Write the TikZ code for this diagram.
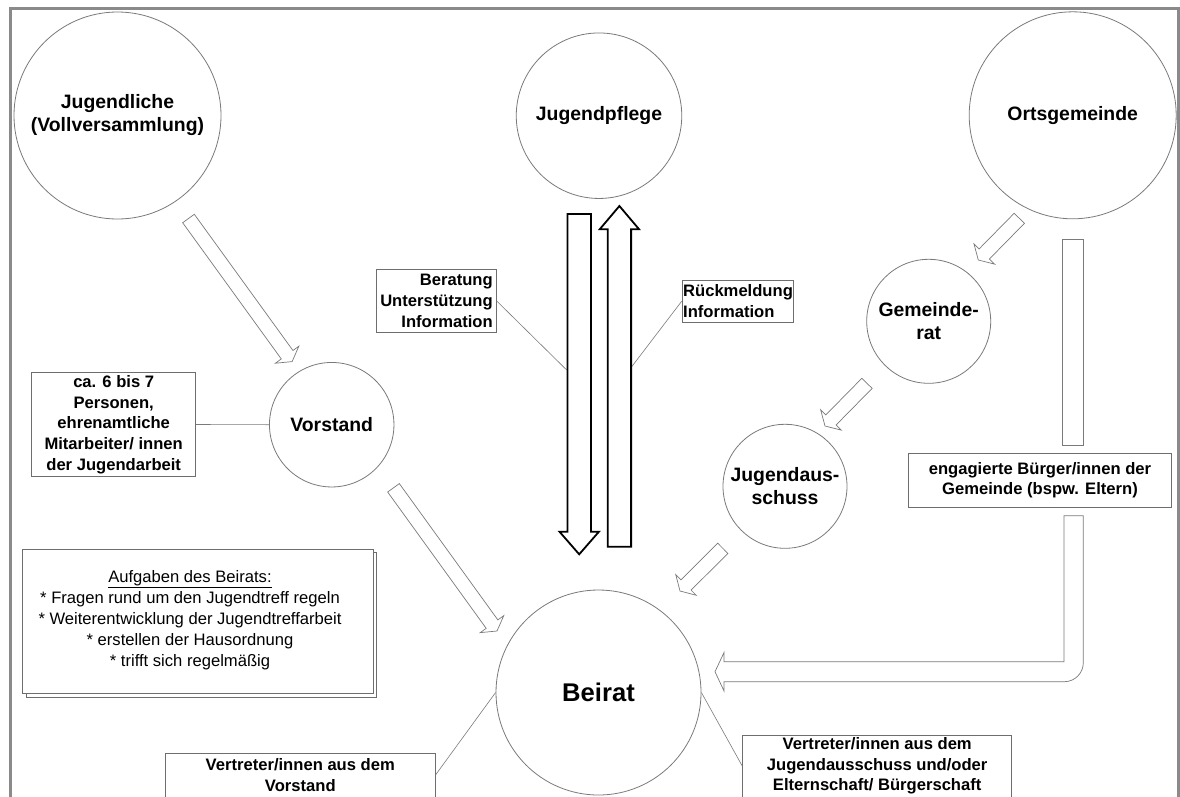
\documentclass[tikz,border=0pt]{standalone}
\usepackage{fontspec}
\setmainfont{Liberation Sans}
\usepackage{tikz}
\usetikzlibrary{calc,shadows}
\definecolor{framegray}{HTML}{8A8A8A}
\definecolor{linegray}{HTML}{7A7A7A}
\definecolor{boxgray}{HTML}{6E6E6E}
\newcommand{\fontcircle}{\fontsize{19.4}{23}\selectfont\bfseries}
\newcommand{\fontbeirat}{\fontsize{25.6}{28}\selectfont\bfseries}
\newcommand{\fontbox}{\fontsize{16.6}{20.7}\selectfont\bfseries}
\newcommand{\fontnote}{\fontsize{16.6}{21}\selectfont}
% block arrow: tail, tip, half shaft width, half head width, head length
\newcommand{\blockarrow}[6][hollowarrow]{%
  \coordinate (ba-base) at ($(#3)!#6pt!(#2)$);
  \draw[#1] ($(#2)!#4pt!90:(#3)$) -- ($(ba-base)!#4pt!90:(#3)$) -- ($(ba-base)!#5pt!90:(#3)$)
    -- (#3) -- ($(ba-base)!#5pt!-90:(#3)$) -- ($(ba-base)!#4pt!-90:(#3)$) -- ($(#2)!#4pt!-90:(#3)$) -- cycle;
}
\tikzset{
  frameline/.style={framegray, line width=3pt, line join=miter},
  roundnode/.style={circle, draw=linegray, line width=0.8pt, fill=white, inner sep=0pt, align=center, font=\fontcircle},
  infobox/.style={draw=boxgray, line width=0.9pt, fill=white, align=center, inner sep=2pt, font=\fontbox},
  noteframe/.style={draw=boxgray, line width=0.9pt, fill=white,
    copy shadow={shadow xshift=3.5pt, shadow yshift=-3.5pt}},
  notetext/.style={align=center, inner sep=2pt, font=\fontnote},
  hollowarrow/.style={draw=linegray, line width=0.7pt, fill=white, line join=miter},
  solidarrow/.style={draw=black, line width=1.8pt, fill=white, line join=miter},
  leader/.style={draw=linegray, line width=0.6pt}
}
\begin{document}
\begin{tikzpicture}[x=1pt,y=-1pt]
  \useasboundingbox (0,0) rectangle (1180,796);
  \draw[frameline] (10,800) -- (10,8) -- (1178.3,8) -- (1178.3,800);

  % circles
  \node[roundnode, minimum size=207pt] (jug) at (117.5,115.5) {Jugendliche\\(Vollversammlung)};
  \node[roundnode, minimum size=165.5pt] (pflege) at (599,115.7) {Jugendpflege};
  \node[roundnode, minimum size=207pt] (orts) at (1072.7,115.3) {Ortsgemeinde};
  \node[roundnode, minimum size=124.5pt] (vorstand) at (331.7,424.7) {Vorstand};
  \node[roundnode, minimum size=124pt] (gemrat) at (928.7,321.3) {Gemeinde-\\rat};
  \node[roundnode, minimum size=124pt] (jausschuss) at (785,486.3) {Jugendaus-\\schuss};
  \node[roundnode, minimum size=205pt, font=\fontbeirat] (beirat) at (598.5,692.5) {Beirat};

  % boxes
  \node[infobox, minimum width=164pt, minimum height=104.4pt] (vbox) at (113.7,424.5)
    {ca. 6 bis 7\\Personen,\\ehrenamtliche\\Mitarbeiter/ innen\\der Jugendarbeit};
  \node[infobox, align=right, inner xsep=3.5pt, minimum height=63.4pt, anchor=east] (beratung) at (496.7,301)
    {Beratung\\Unterstützung\\Information};
  \node[infobox, align=left, inner xsep=1pt, minimum height=42.3pt, anchor=west] (rueck) at (681.7,301.2)
    {Rückmeldung\\Information};
  \node[infobox, minimum width=263.4pt, minimum height=54pt] (buerger) at (1040,480.3)
    {engagierte Bürger/innen der\\Gemeinde (bspw. Eltern)};
  \node[infobox, minimum width=269.5pt, minimum height=44pt] (vvor) at (300.3,775)
    {Vertreter/innen aus dem\\Vorstand};
  \node[infobox, minimum width=269pt, minimum height=62pt] (vjug) at (877.2,766)
    {Vertreter/innen aus dem\\Jugendausschuss und/oder\\Elternschaft/ Bürgerschaft};
  \draw[noteframe] (22.3,549) rectangle (373,693.3);
  \node[notetext] (aufgaben) at (190,620.5)
    {\underline{Aufgaben des Beirats:}\\* Fragen rund um den Jugendtreff regeln\\* Weiterentwicklung der Jugendtreffarbeit\\* erstellen der Hausordnung\\* trifft sich regelmäßig};

  % thin connectors
  \coordinate (dnside) at (566.7,370);
  \coordinate (upside) at (631.7,366.7);
  \draw[leader] (vbox.east) -- (vorstand.west);
  \draw[leader] (beratung.east) -- (dnside);
  \draw[leader] (rueck.west) -- (upside);
  \draw[leader] (vvor.east) -- (beirat.west);
  \draw[leader] (vjug.west) -- (beirat.east);

  % hollow arrows between the circles
  \coordinate (arr1-tail) at (188.5,218.5);  \coordinate (arr1-tip) at (292.1,361.6);
  \coordinate (arr2-tail) at (393.5,487.8);  \coordinate (arr2-tip) at (497,631);
  \coordinate (arr3-tail) at (1019.3,218.3); \coordinate (arr3-tip) at (978.3,260);
  \coordinate (arr4-tail) at (867,383.3);    \coordinate (arr4-tip) at (825,426);
  \coordinate (arr5-tail) at (722.8,548.3);  \coordinate (arr5-tip) at (680,591);
  \foreach \n in {1,...,5}{
    \blockarrow{arr\n-tail}{arr\n-tip}{7.2}{14.5}{8.5}
  }
  \draw[hollowarrow] (1062.7,239.3) rectangle (1083.3,445.7);
  \draw[hollowarrow] (1064,515.7) -- (1064,661.7) -- (724,661.7) -- (724,652.5) -- (715,671.7) -- (724,691)
    -- (724,681.7) -- (1064.3,681.7) .. controls (1074.8,681.7) and (1083.3,673.2) .. (1083.3,662.7)
    -- (1083.3,515.7) -- cycle;

  % Jugendpflege up and down
  \coordinate (dn-top) at (579.2,214);   \coordinate (dn-tip) at (579.2,554.3);
  \coordinate (up-bot) at (619.4,546.7); \coordinate (up-tip) at (619.4,206);
  \blockarrow[solidarrow]{dn-top}{dn-tip}{11.8}{19.7}{22.6}
  \blockarrow[solidarrow]{up-bot}{up-tip}{11.7}{19.7}{23.3}
\end{tikzpicture}
\end{document}
